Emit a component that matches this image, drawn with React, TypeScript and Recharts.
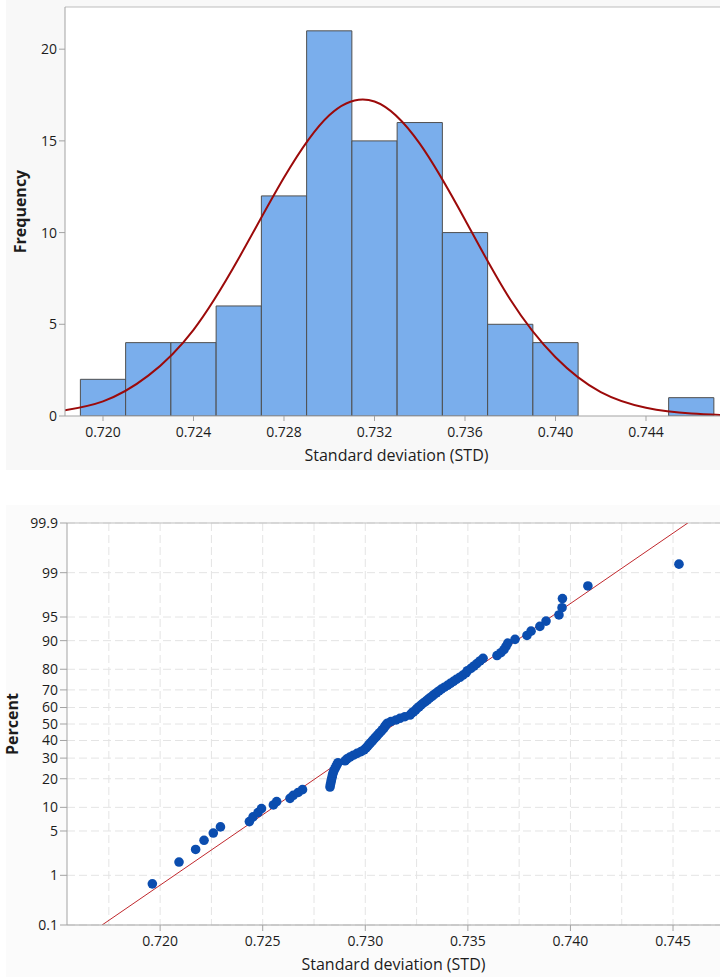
import React from 'react';
import {
  ComposedChart,
  Bar,
  Line,
  Scatter,
  XAxis,
  YAxis,
  CartesianGrid,
  ReferenceLine,
} from 'recharts';

const FONT = '"Open Sans", "Noto Sans", sans-serif';

// ---- histogram (top) ----
const binCenters = [0.72, 0.722, 0.724, 0.726, 0.728, 0.73, 0.732, 0.734, 0.736, 0.738, 0.74, 0.742, 0.744, 0.746];
const binCounts = [2, 4, 4, 6, 12, 21, 15, 16, 10, 5, 4, 0, 0, 1];
const curveX = [0.718, 0.72, 0.722, 0.724, 0.726, 0.728, 0.73, 0.732, 0.734, 0.736, 0.738, 0.74, 0.742, 0.744, 0.746, 0.748];
const curveY = [0.25, 0.8, 2.2, 4.7, 8.6, 13.0, 16.4, 17.15, 14.85, 10.7, 6.35, 3.2, 1.3, 0.45, 0.13, 0.03];
const histXTicks = [0.72, 0.724, 0.728, 0.732, 0.736, 0.74, 0.744];
const freqTicks = [0, 5, 10, 15, 20];

const histXDomain: [number, number] = [0.71832, 0.74727];
const freqMax = 22.3;
const binWidth = 0.002;

// ---- normal probability plot (bottom) ----
const stdValues = [
  0.71962, 0.72092, 0.72173, 0.72214, 0.72259, 0.72294, 0.72435, 0.72453, 0.72477, 0.72494,
  0.72552, 0.72568, 0.72633, 0.72649, 0.72673, 0.72694, 0.72828, 0.7283, 0.72833, 0.72835,
  0.72838, 0.7284, 0.72843, 0.72847, 0.72852, 0.72857, 0.72862, 0.72867, 0.72901, 0.72911,
  0.72925, 0.72942, 0.7296, 0.72979, 0.72994, 0.73003, 0.73011, 0.73018, 0.73025, 0.73033,
  0.7304, 0.73047, 0.73055, 0.73062, 0.73069, 0.73077, 0.73084, 0.73091, 0.73096, 0.73101,
  0.73108, 0.73125, 0.7315, 0.73169, 0.73193, 0.73218, 0.73225, 0.73235, 0.73245, 0.73252,
  0.73262, 0.73271, 0.73281, 0.73293, 0.73303, 0.73313, 0.73325, 0.73335, 0.73347, 0.73359,
  0.73371, 0.73386, 0.73401, 0.73415, 0.7343, 0.73444, 0.73461, 0.73476, 0.73491, 0.73498,
  0.73515, 0.7353, 0.73544, 0.73559, 0.73574, 0.73642, 0.73661, 0.73676, 0.73686, 0.73695,
  0.7373, 0.73788, 0.73808, 0.73851, 0.73881, 0.73944, 0.73959, 0.73961, 0.74085, 0.74529,
];
const stdPercents = [
  0.7, 1.69, 2.69, 3.69, 4.68, 5.68, 6.67, 7.67, 8.67, 9.66,
  10.66, 11.65, 12.65, 13.65, 14.64, 15.64, 16.63, 17.63, 18.63, 19.62,
  20.62, 21.61, 22.61, 23.61, 24.6, 25.6, 26.59, 27.59, 28.59, 29.58,
  30.58, 31.57, 32.57, 33.57, 34.56, 35.56, 36.55, 37.55, 38.55, 39.54,
  40.54, 41.53, 42.53, 43.53, 44.52, 45.52, 46.51, 47.51, 48.51, 49.5,
  50.5, 51.49, 52.49, 53.49, 54.48, 55.48, 56.47, 57.47, 58.47, 59.46,
  60.46, 61.45, 62.45, 63.45, 64.44, 65.44, 66.43, 67.43, 68.43, 69.42,
  70.42, 71.41, 72.41, 73.41, 74.4, 75.4, 76.39, 77.39, 78.39, 79.38,
  80.38, 81.37, 82.37, 83.37, 84.36, 85.36, 86.35, 87.35, 88.35, 89.34,
  90.34, 91.33, 92.33, 93.33, 94.32, 95.32, 96.31, 97.31, 98.31, 99.3,
];
const fitX = [0.71717, 0.74572];
const fitPercents = [0.1, 99.9];
const percentTicks = [0.1, 1, 5, 10, 20, 30, 40, 50, 60, 70, 80, 90, 95, 99, 99.9];
const stdTicks = [0.72, 0.725, 0.73, 0.735, 0.74, 0.745];
const stdGrid = [0.7175, 0.72, 0.7225, 0.725, 0.7275, 0.73, 0.7325, 0.735, 0.7375, 0.74, 0.7425, 0.745, 0.7475];
const probXDomain: [number, number] = [0.71546, 0.74729];

// inverse standard normal CDF (Acklam) for the probability axis
function probit(p: number): number {
  const a = [-39.69683028665376, 220.9460984245205, -275.9285104469687, 138.357751867269, -30.66479806614716, 2.506628277459239];
  const b = [-54.47609879822406, 161.5858368580409, -155.6989798598866, 66.80131188771972, -13.28068155288572];
  const c = [-0.007784894002430293, -0.3223964580411365, -2.400758277161838, -2.549732539343734, 4.374664141464968, 2.938163982698783];
  const d = [0.007784695709041462, 0.3224671290700398, 2.445134137142996, 3.754408661907416];
  const lo = 0.02425;
  if (p < lo) {
    const q = Math.sqrt(-2 * Math.log(p));
    return (((((c[0] * q + c[1]) * q + c[2]) * q + c[3]) * q + c[4]) * q + c[5]) /
      ((((d[0] * q + d[1]) * q + d[2]) * q + d[3]) * q + 1);
  }
  if (p > 1 - lo) {
    const q = Math.sqrt(-2 * Math.log(1 - p));
    return -(((((c[0] * q + c[1]) * q + c[2]) * q + c[3]) * q + c[4]) * q + c[5]) /
      ((((d[0] * q + d[1]) * q + d[2]) * q + d[3]) * q + 1);
  }
  const q = p - 0.5;
  const r = q * q;
  return ((((((a[0] * r + a[1]) * r + a[2]) * r + a[3]) * r + a[4]) * r + a[5]) * q) /
    (((((b[0] * r + b[1]) * r + b[2]) * r + b[3]) * r + b[4]) * r + 1);
}

const histData = curveX.map((x, i) => {
  const b = binCenters.findIndex((c) => Math.abs(c - x) < 1e-9);
  return { x, curve: curveY[i], count: b >= 0 ? binCounts[b] : undefined };
});

const probData = stdValues.map((x, i) => ({ x, z: probit(stdPercents[i] / 100) }));
const fitData = fitX.map((x, i) => ({ x, z: probit(fitPercents[i] / 100) }));
const percentZ = percentTicks.map((p) => probit(p / 100));
const zMin = probit(0.001);
const zMax = probit(0.999);

const HIST_W = 720;
const HIST_Y_W = 65;
const barPx = ((HIST_W - HIST_Y_W) * binWidth) / (histXDomain[1] - histXDomain[0]) - 0.02;

const tickStyle = { fill: '#1c1c1c', fontSize: 14, fontFamily: FONT };
const axisGrey = '#a3a3a3';

const percentLabel = (v: number) => {
  let best = 0;
  percentZ.forEach((z, i) => {
    if (Math.abs(z - v) < Math.abs(percentZ[best] - v)) best = i;
  });
  return String(percentTicks[best]);
};

const Dot = (props: any) => <circle cx={props.cx} cy={props.cy} r={4.8} fill="#0b4daf" />;

export default function App() {
  return (
    <div style={{ position: 'absolute', left: 0, top: 0, width: 720, height: 977, background: '#fff', fontFamily: FONT }}>
      <div style={{ position: 'absolute', left: 6, top: 0, width: 714, height: 470, background: '#f8f8f8' }} />
      <div style={{ position: 'absolute', left: 6, top: 505, width: 714, height: 472, background: '#fbfbfb' }} />

      <div style={{ position: 'absolute', left: 0, top: 0 }}>
        <ComposedChart width={HIST_W} height={470} data={histData} margin={{ top: 7, right: 0, bottom: 0, left: 0 }}>
          <CartesianGrid horizontal={false} vertical={false} fill="#ffffff" />
          <XAxis
            dataKey="x"
            type="number"
            domain={histXDomain}
            allowDataOverflow
            ticks={histXTicks}
            interval={0}
            tickFormatter={(v: number) => v.toFixed(3)}
            height={54}
            tickSize={5}
            tickMargin={6}
            stroke={axisGrey}
            tick={tickStyle}
            label={{ value: 'Standard deviation (STD)', position: 'insideBottom', offset: 9, dx: 4, fill: '#1c1c1c', fontSize: 16, fontFamily: FONT }}
          />
          <YAxis
            type="number"
            domain={[0, freqMax]}
            allowDataOverflow
            ticks={freqTicks}
            interval={0}
            width={HIST_Y_W}
            tickSize={6}
            tickMargin={2}
            stroke={axisGrey}
            tick={tickStyle}
            label={{ value: 'Frequency', angle: -90, position: 'center', dx: -12, fill: '#1c1c1c', fontSize: 16, fontWeight: 'bold', fontFamily: FONT }}
          />
          <ReferenceLine y={freqMax} stroke="#bdbdbd" />
          <Bar dataKey="count" fill="#7aaeec" stroke="#4f4f4f" strokeWidth={1} barSize={barPx} isAnimationActive={false} />
          <Line dataKey="curve" type="natural" stroke="#9c0a0a" strokeWidth={2} dot={false} isAnimationActive={false} />
        </ComposedChart>
      </div>

      <div style={{ position: 'absolute', left: 0, top: 500 }}>
        <ComposedChart width={720} height={477} margin={{ top: 23, right: 0, bottom: 0, left: 0 }}>
          <CartesianGrid
            fill="#ffffff"
            stroke="#e4e4e4"
            strokeDasharray="8 4"
            verticalValues={stdGrid}
            horizontalValues={percentZ}
          />
          <XAxis
            dataKey="x"
            type="number"
            domain={probXDomain}
            allowDataOverflow
            ticks={stdTicks}
            interval={0}
            tickFormatter={(v: number) => v.toFixed(3)}
            height={52}
            tickSize={6}
            tickMargin={5}
            stroke={axisGrey}
            tick={tickStyle}
            label={{ value: 'Standard deviation (STD)', position: 'insideBottom', offset: 7, fill: '#1c1c1c', fontSize: 16, fontFamily: FONT }}
          />
          <YAxis
            dataKey="z"
            type="number"
            domain={[zMin, zMax]}
            allowDataOverflow
            ticks={percentZ}
            interval={0}
            tickFormatter={percentLabel}
            width={67}
            tickSize={7}
            tickMargin={2}
            stroke={axisGrey}
            tick={tickStyle}
            label={{ value: 'Percent', angle: -90, position: 'center', dx: -21, fill: '#1c1c1c', fontSize: 16, fontWeight: 'bold', fontFamily: FONT }}
          />
          <ReferenceLine y={zMax} stroke="#bdbdbd" />
          <Line data={fitData} dataKey="z" type="linear" stroke="#c0282d" strokeWidth={1} dot={false} isAnimationActive={false} />
          <Scatter data={probData} fill="#0b4daf" shape={Dot} isAnimationActive={false} />
        </ComposedChart>
      </div>
    </div>
  );
}
